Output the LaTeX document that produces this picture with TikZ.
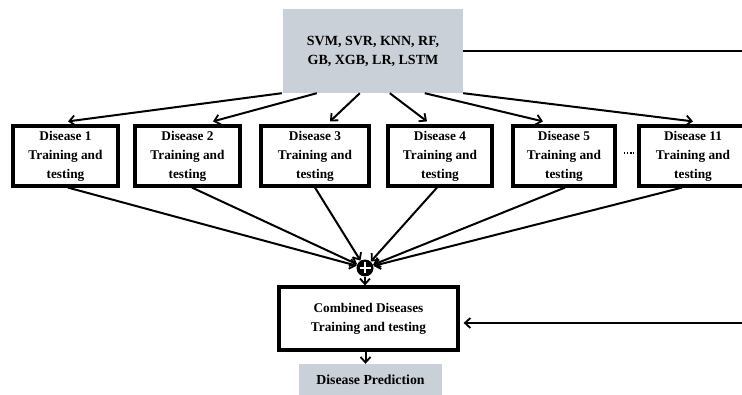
\documentclass[tikz,border=0pt]{standalone}
\usepackage{fontspec}
\setmainfont{Liberation Serif}
\usetikzlibrary{arrows.meta,calc}

\definecolor{panelgray}{RGB}{201,208,215}

\tikzset{
  every node/.style={font=\bfseries\fontsize{13.3}{19}\selectfont, align=center, inner sep=0pt},
  dbox/.style={draw, line width=3.2pt, minimum height=60pt, fill=white},
  graybox/.style={fill=panelgray},
  conn/.style={line width=2pt, -{Straight Barb[length=5.5pt,width=10pt,line width=1.8pt]}},
}

\begin{document}
\begin{tikzpicture}[x=1pt,y=-1pt]
\useasboundingbox (0,0) rectangle (742,395);
\clip (0,0) rectangle (742,395);

% model pool
\node[graybox, minimum width=180pt, minimum height=84pt,
      font=\bfseries\fontsize{14}{19}\selectfont] (models) at (373,51)
  {SVM, SVR, KNN, RF,\\GB, XGB, LR, LSTM};

% per-disease training blocks
\node[dbox, minimum width=105pt] (d1)  at (65.5,156) {Disease 1\\Training and\\testing};
\node[dbox, minimum width=105pt] (d2)  at (187.5,156) {Disease 2\\Training and\\testing};
\node[dbox, minimum width=108pt] (d3)  at (315,156) {Disease 3\\Training and\\testing};
\node[dbox, minimum width=104pt] (d4)  at (440,156) {Disease 4\\Training and\\testing};
\node[dbox, minimum width=102pt] (d5)  at (564,156) {Disease 5\\Training and\\testing};
\node[dbox, minimum width=108pt] (d11) at (693,156) {Disease 11\\Training and\\testing};

% ellipsis between block 5 and block 11
\draw[line width=1.8pt, dash pattern=on 1.6pt off 1.6pt]
  ([xshift=7pt,yshift=3pt]d5.east) -- ([xshift=-3pt,yshift=3pt]d11.west);

% summing junction
\node[circle, fill=black, minimum size=17pt] (sum) at (365,268) {};
\draw[white, line width=1.2pt] ([xshift=-5.5pt]sum.center) -- ([xshift=5.5pt]sum.center)
                               ([yshift=-5.5pt]sum.center) -- ([yshift=5.5pt]sum.center);

% combined model and output
\node[dbox, minimum width=179pt, minimum height=63pt] (comb) at (368.5,318.5)
  {Combined Diseases\\Training and testing};
\node[graybox, minimum width=143pt, minimum height=32pt,
      font=\bfseries\fontsize{13.8}{19}\selectfont] (pred) at (370.5,380)
  {Disease Prediction};

% fan-out from the model pool
\draw[conn] ([xshift=-1pt]models.south west) -- ([xshift=2.5pt,yshift=3pt]d1.north);
\draw[conn] ([xshift=34pt]models.south west) -- ([xshift=25.5pt,yshift=3pt]d2.north);
\draw[conn] ([xshift=77pt]models.south west) -- ([xshift=15pt,yshift=3pt]d3.north);
\draw[conn] ([xshift=107pt]models.south west) -- ([xshift=-13pt,yshift=3pt]d4.north);
\draw[conn] ([xshift=142pt]models.south west) -- ([xshift=-21pt,yshift=3pt]d5.north);
\draw[conn] (models.south east) -- ([yshift=3pt]d11.north);

% fan-in to the junction
\draw[conn] ([xshift=2.5pt]d1.south)   -- (sum);
\draw[conn] ([xshift=4.5pt]d2.south)   -- (sum);
\draw[conn] (d3.south)                 -- (sum);
\draw[conn] ([xshift=-3pt]d4.south)    -- (sum);
\draw[conn] ([xshift=1pt]d5.south)     -- (sum);
\draw[conn] ([xshift=-11pt]d11.south)  -- (sum);

% junction to combined model to output
\draw[conn] (sum.south) -- (sum.south |- comb.north);
\draw[conn] ([xshift=-3pt]comb.south) -- ([xshift=-3pt]comb.south |- pred.north);

% direct feed of the model pool into the combined model
\draw[conn] (models.east) -- ++(320,0) |- ([xshift=4pt,yshift=-4.5pt]comb.east);
\end{tikzpicture}
\end{document}
